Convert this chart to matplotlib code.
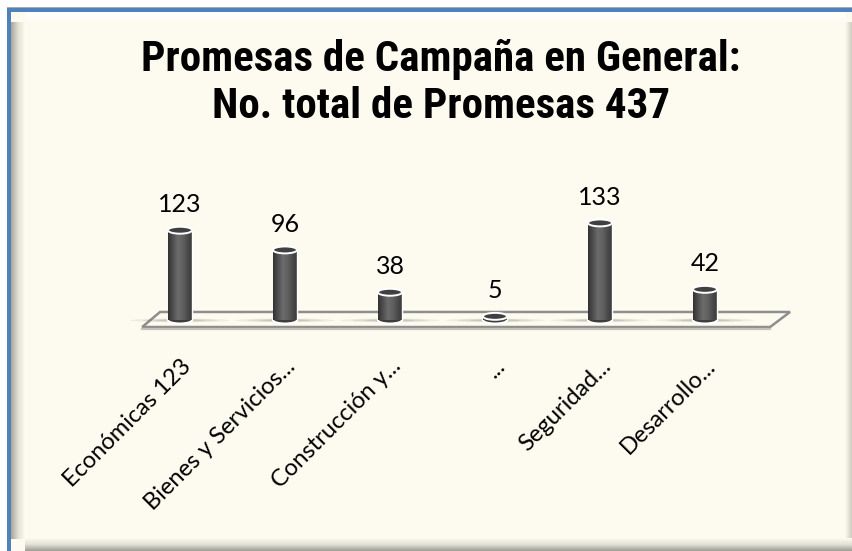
import numpy as np
import matplotlib
matplotlib.use('Agg')
import matplotlib.pyplot as plt
import matplotlib.transforms as mtransforms
from matplotlib.patches import Rectangle, Ellipse, Polygon
from matplotlib.colors import LinearSegmentedColormap

# Datos del gráfico
categorias = ['Económicas 123', 'Bienes y Servicios...', 'Construcción y...',
              '...', 'Seguridad...', 'Desarrollo...']
valores = [123, 96, 38, 5, 133, 42]
titulo = 'Promesas de Campaña en General:\nNo. total de Promesas 437'

W, H = 853, 551
fig = plt.figure(figsize=(W / 100, H / 100), dpi=100, facecolor='white')

# Fondo con marco y biselado (coordenadas en pixeles)
bg = fig.add_axes([0, 0, 1, 1], zorder=0)
bg.axis('off')
crema = '#FDFBEF'
bg.add_patch(Rectangle((7, 7), W - 7, 2, color='#A8A8A8', lw=0, zorder=0))
bg.add_patch(Rectangle((7, 8), W - 7, H - 8, color='#4F81BD', lw=0, zorder=0))
bg.add_patch(Rectangle((11, 12), W - 11, H - 12, color=crema, lw=0, zorder=0))

# biselado: izquierda, arriba, abajo, derecha
lado = LinearSegmentedColormap.from_list('lado', ['#A8A698', '#E2E0D2', crema])
bg.imshow(np.linspace(0, 1, 50).reshape(1, -1), cmap=lado, aspect='auto',
          extent=[11, 25, H - 12, 22], zorder=2)
claro = LinearSegmentedColormap.from_list('claro', ['#FFFFFF', crema])
bg.imshow(np.linspace(0, 1, 50).reshape(-1, 1), cmap=claro, aspect='auto',
          extent=[25, W - 8, 24, 12], zorder=2)
abajo = LinearSegmentedColormap.from_list('abajo', [crema, '#E2E0D2', '#9E9D94'])
bg.imshow(np.linspace(0, 1, 50).reshape(-1, 1), cmap=abajo, aspect='auto',
          extent=[25, W, H, H - 13], zorder=2)
dere = LinearSegmentedColormap.from_list('dere', [crema, '#C8C6BA'])
bg.imshow(np.linspace(0, 1, 20).reshape(1, -1), cmap=dere, aspect='auto',
          extent=[W - 8, W, H - 13, 22], zorder=2)
bg.set_xlim(0, W)
bg.set_ylim(H, 0)

# Título
fig.text(0.517, 1 - 83 / H, titulo, ha='center', va='center',
         fontsize=31, fontweight='bold', linespacing=1.2,
         family=['Roboto Condensed', 'Liberation Sans Narrow', 'Lato'])

# Ejes del gráfico
ax = fig.add_axes([75 / W, 1 - 334.6 / H, 735 / W, 131.4 / H], zorder=1)
ax.set_facecolor('none')
for s in ax.spines.values():
    s.set_visible(False)

n = len(valores)
x = np.arange(n)
ancho = 0.23
elip = 9.5  # alto de la elipse en unidades de datos

# Piso 3D
piso = Polygon([(-0.36, -9.6), (-0.19, 11), (n - 0.19, 11), (n - 0.38, -9.6)],
               closed=True, facecolor=crema, edgecolor='#8E8E8E', lw=1.8, zorder=1)
ax.add_patch(piso)
ax.plot([-0.36, n - 0.38], [-11.8, -11.8], color='#C4C3BA', lw=1.6, zorder=1)

cil = LinearSegmentedColormap.from_list(
    'cil', ['#333333', '#505050', '#6C6C6C', '#606060', '#4A4A4A', '#383838'])
grad = np.linspace(0, 1, 64).reshape(1, -1)

for xi, v in zip(x, valores):
    # sombra sobre el piso
    for k, a in zip([1.0, 0.75, 0.5], [0.10, 0.14, 0.18]):
        ax.add_patch(Ellipse((xi, -0.5), 0.95 * k, 5 * k, color='#6F6F6F',
                             alpha=a, lw=0, zorder=2))
    # base
    ax.add_patch(Ellipse((xi, 0), ancho, elip, facecolor='#3E3E3E',
                         edgecolor='white', lw=1.4, zorder=3))
    # cuerpo
    ax.imshow(grad, cmap=cil, aspect='auto', zorder=4,
              extent=[xi - ancho / 2, xi + ancho / 2, 0, v])
    ax.plot([xi + ancho / 2, xi + ancho / 2], [0, v], color='white', lw=1.0, zorder=4)
    # tapa
    ax.add_patch(Ellipse((xi, v), ancho, elip, facecolor='#404040',
                         edgecolor='white', lw=1.4, zorder=5))
    ax.annotate(str(v), (xi, v), xytext=(0, 10), textcoords='offset points',
                ha='center', va='bottom', fontsize=18, family='Lato', zorder=6)

ax.set_xlim(-1, 6)
ax.set_ylim(-20, 160)
ax.set_yticks([])
ax.set_xticks(x)
etiquetas = ax.set_xticklabels(categorias, rotation=45, ha='right', va='top',
                               rotation_mode='anchor', fontsize=17, family='Lato')
desplazar = mtransforms.ScaledTranslation(16 / 100, 0, fig.dpi_scale_trans)
for et in etiquetas:
    et.set_transform(et.get_transform() + desplazar)
ax.tick_params(axis='x', length=0, pad=15)

plt.savefig('out.png', dpi=100, facecolor='white')
